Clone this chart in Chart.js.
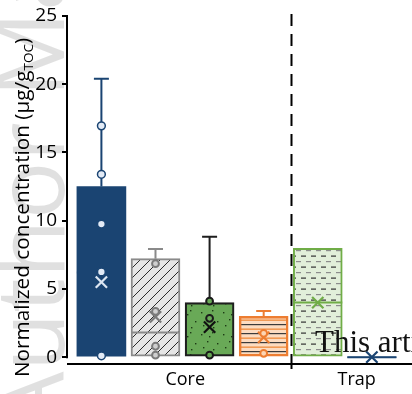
<!DOCTYPE html>
<html>
<head>
<meta charset="utf-8">
<script src="https://cdn.jsdelivr.net/npm/chart.js@4/dist/chart.umd.min.js"></script>
<style>
  html, body { margin: 0; padding: 0; background: #fff; }
  #wrap { width: 412px; height: 394px; position: relative; }
</style>
</head>
<body>
<div id="wrap"><canvas id="c" width="412" height="394"></canvas></div>
<script>
// Box statistics per sample (four core fractions, two trap fractions)
const groups = ['Core', 'Trap'];
const boxLow = [0, 0, 0, 0, 0, 0];
const boxHigh = [12.5, 7.22, 4.0, 3.0, 7.97, 0];
const medians = [6.2, 1.8, null, null, 4.0, 0];
const whiskerMax = [20.4, 7.92, 8.82, 3.38, null, null];
const means = [5.5, 2.95, 2.2, 1.45, 4.0, 0];
const samplePoints = [
  [16.95, 13.4, 9.75, 6.25, 0.1],
  [6.85, 3.35, 0.8, 0.15],
  [4.1, 2.85, 0.15],
  [1.75, 0.28],
  [],
  []
];
const yTicks = [0, 5, 10, 15, 20, 25];

const NAVY = '#1a4472', GRAY = '#8a8a8a', DARK = '#1e1e1e', ORANGE = '#ed7d31', LGREEN = '#70ad47';
const edgeColors = [NAVY, GRAY, DARK, ORANGE, LGREEN, NAVY];

function tile(w, h, paint) {
  const t = document.createElement('canvas');
  t.width = w; t.height = h;
  const g = t.getContext('2d');
  paint(g, w, h);
  return document.getElementById('c').getContext('2d').createPattern(t, 'repeat');
}
// diagonal hatch
const hatchGray = tile(10, 10, (g, w, h) => {
  g.fillStyle = '#e6e6e6'; g.fillRect(0, 0, w, h);
  g.strokeStyle = '#2a2a2a'; g.lineWidth = 1;
  g.beginPath();
  g.moveTo(-2, h + 2); g.lineTo(w + 2, -2);
  g.moveTo(-2, 2); g.lineTo(2, -2);
  g.moveTo(w - 2, h + 2); g.lineTo(w + 2, h - 2);
  g.stroke();
});
// speckled green
const speckGreen = tile(22, 22, (g, w, h) => {
  g.fillStyle = '#69a957'; g.fillRect(0, 0, w, h);
  g.fillStyle = '#1d3a14';
  [[3, 4], [14, 2], [9, 11], [19, 13], [5, 17], [15, 19], [11, 6]].forEach(([x, y]) => g.fillRect(x, y, 1.4, 1.4));
});
// horizontal stripes
const stripeOrange = tile(4, 9, (g, w, h) => {
  g.fillStyle = '#fcdcc1'; g.fillRect(0, 0, w, h);
  g.fillStyle = '#3b3b3b'; g.fillRect(0, 0, w, 1.2);
  g.fillStyle = '#f19a55'; g.fillRect(0, 4.4, w, 1.6);
});
// dashed rows
const dashGreen = tile(10, 11, (g, w, h) => {
  g.fillStyle = '#e2efda'; g.fillRect(0, 0, w, h);
  g.fillStyle = '#333'; g.fillRect(1, 2.5, 5, 1.2);
  g.fillStyle = '#8c8c8c'; g.fillRect(6, 8, 5, 1.2); g.fillRect(0, 8, 1, 1.2);
});

const fills = [NAVY, hatchGray, speckGreen, stripeOrange, dashGreen, NAVY];
const borderWidths = [0, 2, 2.2, 2.5, 2, 0];
const meanColors = ['#dce6f2', '#7a7a7a', '#111', ORANGE, LGREEN, NAVY];
const ptFill = ['#e3ebf6', '#cfcfcf', '#69a957', '#fcd5b4'];
const ptEdge = [NAVY, '#7a7a7a', '#1a1a1a', ORANGE];

const boxData = boxHigh.map((h, i) => ({ x: i, y: [boxLow[i], h] }));
const meanData = means.map((m, i) => ({ x: i, y: m }));
const pointData = [];
samplePoints.forEach((arr, i) => arr.forEach(v => pointData.push({ x: i, y: v })));

const boxExtras = {
  id: 'boxExtras',
  beforeDraw(chart) {
    const { ctx } = chart;
    ctx.save();
    ctx.fillStyle = '#fff';
    ctx.fillRect(0, 0, chart.width, chart.height);
    // faint vertical stamp along the left margin
    ctx.translate(64, 432);
    ctx.rotate(-Math.PI / 2);
    ctx.fillStyle = 'rgba(0,0,0,0.12)';
    ctx.font = '96px "Open Sans"';
    ctx.fillText('Author Manuscript', 0, 0);
    ctx.restore();
  },
  beforeDatasetsDraw(chart) {
    const { ctx } = chart;
    const y = chart.scales.y;
    const meta = chart.getDatasetMeta(0);
    ctx.save();
    // whiskers
    whiskerMax.forEach((w, i) => {
      if (w == null) return;
      const el = meta.data[i];
      const y0 = y.getPixelForValue(boxHigh[i]);
      const y1 = y.getPixelForValue(w);
      ctx.strokeStyle = edgeColors[i];
      ctx.lineWidth = 2;
      ctx.beginPath();
      ctx.moveTo(el.x, y0); ctx.lineTo(el.x, y1);
      ctx.moveTo(el.x - 7.5, y1); ctx.lineTo(el.x + 7.5, y1);
      ctx.stroke();
    });
    ctx.restore();
  },
  afterDatasetDraw(chart, args) {
    if (args.index !== 0) return;
    const { ctx } = chart;
    const y = chart.scales.y;
    const meta = args.meta;
    ctx.save();
    medians.forEach((m, i) => {
      if (m == null) return;
      const el = meta.data[i];
      const py = y.getPixelForValue(m);
      ctx.strokeStyle = edgeColors[i];
      ctx.lineWidth = 2;
      ctx.beginPath();
      ctx.moveTo(el.x - el.width / 2, py);
      ctx.lineTo(el.x + el.width / 2, py);
      ctx.stroke();
    });
    ctx.restore();
  },
  afterDraw(chart) {
    const { ctx, chartArea } = chart;
    const x = chart.scales.x, y = chart.scales.y;
    ctx.save();
    // axis lines
    ctx.strokeStyle = '#000';
    ctx.lineWidth = 2;
    ctx.beginPath();
    ctx.moveTo(chartArea.left, y.getPixelForValue(25) - 1);
    ctx.lineTo(chartArea.left, y.getPixelForValue(0) + 1);
    ctx.moveTo(chartArea.left, chartArea.bottom);
    ctx.lineTo(chart.width, chartArea.bottom);
    ctx.stroke();
    // core / trap divider
    const dx = Math.round(x.getPixelForValue(3.5)) + 0.5;
    ctx.beginPath();
    ctx.setLineDash([12, 8]);
    ctx.moveTo(dx, chartArea.top - 2);
    ctx.lineTo(dx, chartArea.bottom);
    ctx.stroke();
    ctx.setLineDash([]);
    ctx.beginPath();
    ctx.moveTo(dx, chartArea.bottom);
    ctx.lineTo(dx, chartArea.bottom + 5);
    ctx.stroke();

    // y-axis title with subscript
    const main = 'Normalized concentration (μg/g', sub = 'TOC', close = ')';
    const big = '20px "Open Sans"', small = '13px "Open Sans"';
    ctx.font = big; const w1 = ctx.measureText(main).width, w3 = ctx.measureText(close).width;
    ctx.font = small; const w2 = ctx.measureText(sub).width;
    const total = w1 + w2 + w3;
    const target = 339;
    ctx.translate(28.5, 207.5);
    ctx.rotate(-Math.PI / 2);
    ctx.scale(target / total, 1);
    ctx.fillStyle = '#000';
    ctx.textBaseline = 'alphabetic';
    let px = -total / 2;
    ctx.font = big; ctx.fillText(main, px, 0); px += w1;
    ctx.font = small; ctx.fillText(sub, px, 4); px += w2;
    ctx.font = big; ctx.fillText(close, px, 0);
    ctx.restore();

    // notice line running along the bottom edge
    ctx.save();
    ctx.fillStyle = '#111';
    ctx.font = '31px "Liberation Serif"';
    ctx.textBaseline = 'alphabetic';
    ctx.fillText('This article is protected by copyright. All rights reserved', 315, 352);
    ctx.restore();
  }
};

new Chart(document.getElementById('c'), {
  type: 'bar',
  data: {
    datasets: [
      {
        type: 'bar',
        data: boxData,
        backgroundColor: fills,
        borderColor: edgeColors,
        borderWidth: borderWidths,
        borderSkipped: false,
        barThickness: 49,
        order: 3
      },
      {
        type: 'scatter',
        data: meanData,
        pointStyle: 'crossRot',
        radius: 8,
        borderWidth: 2.2,
        borderColor: meanColors,
        backgroundColor: meanColors,
        clip: false,
        order: 2
      },
      {
        type: 'scatter',
        data: pointData,
        pointStyle: 'circle',
        radius: ctx => (ctx.raw && ctx.raw.x === 0 ? 3.9 : 3.4),
        borderWidth: ctx => (ctx.raw && ctx.raw.x === 0 ? 1.5 : 2),
        backgroundColor: ctx => ptFill[ctx.raw ? ctx.raw.x : 0],
        borderColor: ctx => ptEdge[ctx.raw ? ctx.raw.x : 0],
        clip: false,
        order: 1
      }
    ]
  },
  options: {
    responsive: false,
    devicePixelRatio: 1,
    animation: false,
    events: [],
    layout: { autoPadding: false, padding: { top: 16, right: 0, bottom: 0, left: 0 } },
    plugins: { legend: { display: false }, tooltip: { enabled: false } },
    scales: {
      x: {
        type: 'linear',
        offset: false,
        min: -0.636,
        max: 5.742,
        afterBuildTicks: s => { s.ticks = [{ value: 1.55 }, { value: 4.72 }]; },
        afterFit: s => { s.height = 30; s.paddingLeft = 0; s.paddingRight = 0; },
        ticks: {
          callback: (v, i) => groups[i],
          autoSkip: false,
          maxRotation: 0,
          padding: 5,
          color: '#000',
          font: { family: 'Open Sans', size: 18 }
        },
        grid: { display: false, drawTicks: false, offset: false },
        border: { display: false }
      },
      y: {
        type: 'linear',
        min: -0.5,
        max: 25,
        afterBuildTicks: s => { s.ticks = yTicks.map(v => ({ value: v })); },
        afterFit: s => { s.width = 67; s.paddingTop = 0; s.paddingBottom = 0; },
        ticks: {
          padding: 5,
          color: '#000',
          font: { family: 'Open Sans', size: 19 }
        },
        grid: { drawOnChartArea: false, drawTicks: true, tickLength: 5, lineWidth: 2, color: '#000' },
        border: { display: false }
      }
    }
  },
  plugins: [boxExtras]
});
</script>
</body>
</html>
